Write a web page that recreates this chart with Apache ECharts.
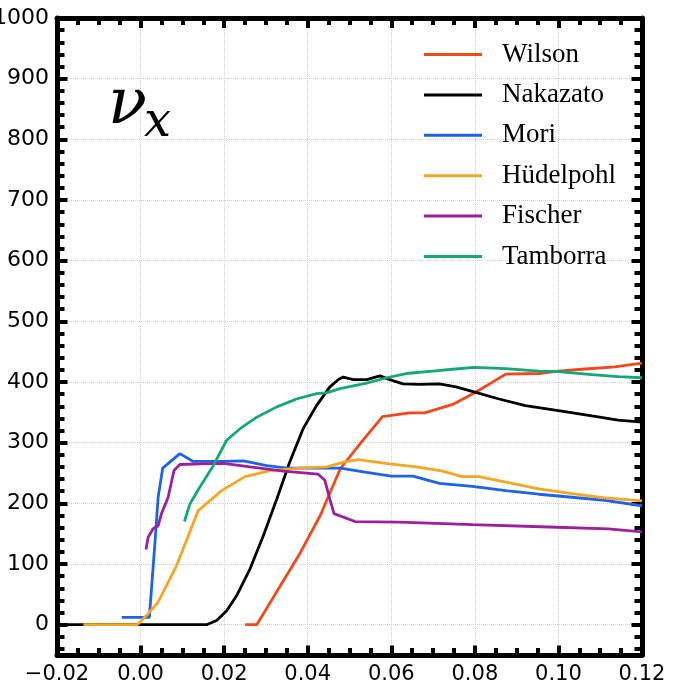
<!DOCTYPE html>
<html>
<head>
<meta charset="utf-8">
<script src="https://cdn.jsdelivr.net/npm/echarts@6/dist/echarts.min.js"></script>
<style>
html,body{margin:0;padding:0;background:#fff;}
#chart{width:680px;height:684px;}
</style>
</head>
<body>
<div id="chart"></div>
<script>
// ---- data (time [s], value) ----
const seriesNames = ['Wilson', 'Nakazato', 'Mori', 'Hüdelpohl', 'Fischer', 'Tamborra'];
const wilson = [[0.025,0],[0.0278,0],[0.0381,117],[0.043,180],[0.0478,257],[0.0525,298],[0.0579,343],[0.0644,349],[0.068,349],[0.0747,363],[0.0802,383],[0.0874,413],[0.0953,414],[0.1,418],[0.1056,421],[0.1135,425],[0.12,431]];
const nakazato = [[-0.02,0],[0.0158,0],[0.0182,7],[0.0206,23],[0.023,48],[0.0262,92],[0.0294,147],[0.0326,207],[0.0357,268],[0.0389,323],[0.0421,361],[0.0453,392],[0.0475,405],[0.0485,408],[0.0509,404],[0.0541,404],[0.0573,410],[0.0596,404],[0.0628,397],[0.0668,396],[0.0715,397],[0.0755,392],[0.0802,383],[0.0858,372],[0.0921,361],[0.1,353],[0.108,344],[0.1143,337],[0.12,334]];
const mori = [[-0.0045,12],[0.0021,12],[0.0036,150],[0.0042,210],[0.0053,258],[0.0094,282],[0.0126,269],[0.0198,269],[0.0246,270],[0.0302,262],[0.035,258],[0.0421,258],[0.0478,258],[0.0541,251],[0.06,245],[0.0652,245],[0.0715,233],[0.0794,228],[0.0874,221],[0.0953,215],[0.1032,210],[0.1111,205],[0.12,196]];
const hudelpohl = [[-0.0137,0],[-0.0008,0],[0.0014,15],[0.0042,37],[0.0086,97],[0.0138,188],[0.0194,221],[0.025,244],[0.031,254],[0.0381,258],[0.0446,260],[0.0486,268],[0.0521,272],[0.0596,265],[0.066,260],[0.0723,253],[0.0769,244],[0.081,244],[0.0874,235],[0.0953,224],[0.1032,216],[0.1111,209],[0.12,204]];
const fischer = [[0.0013,124],[0.0018,144],[0.003,158],[0.0042,163],[0.005,183],[0.0066,210],[0.008,254],[0.0094,264],[0.0142,265],[0.0198,266],[0.0262,260],[0.0342,253],[0.0425,248],[0.0441,238],[0.0453,207],[0.0463,183],[0.0513,170],[0.062,169],[0.0794,165],[0.0977,161],[0.1119,158],[0.12,153]];
const tamborra = [[0.0105,170],[0.0118,199],[0.0142,227],[0.0174,262],[0.0206,304],[0.0238,323],[0.0278,342],[0.0326,359],[0.0373,372],[0.0421,381],[0.0445,382],[0.0477,389],[0.0541,398],[0.0589,407],[0.0636,414],[0.0699,418],[0.0747,421],[0.0798,424],[0.0874,422],[0.0953,418],[0.1,417],[0.108,412],[0.1143,409],[0.12,407]];
const seriesData = [wilson, nakazato, mori, hudelpohl, fischer, tamborra];
const seriesColors = ['#F2481B', '#000000', '#1C63E8', '#F5A623', '#9C1F9E', '#13A878'];

// ---- axes / ticks ----
const xMin = -0.02, xMax = 0.12;
const xMajorTicks = [-0.02, 0, 0.02, 0.04, 0.06, 0.08, 0.10, 0.12];
const xMinorTicks = [-0.015,-0.01,-0.005,0.005,0.01,0.015,0.025,0.03,0.035,0.045,0.05,0.055,0.065,0.07,0.075,0.085,0.09,0.095,0.105,0.11,0.115];
const yMin = -50, yMax = 1000;
const yMajorTicks = [0,100,200,300,400,500,600,700,800,900,1000];
const yMinorTicks = [-40,-20,20,40,60,80,120,140,160,180,220,240,260,280,320,340,360,380,420,440,460,480,520,540,560,580,620,640,660,680,720,740,760,780,820,840,860,880,920,940,960,980];

const FRAME = '#000';
const labelFont = "'DejaVu Sans', sans-serif";

function axisCfg(kind, pos, ticks, len, withLabels, withLine) {
  const isX = kind === 'x';
  return {
    show: true, type: 'value', position: pos,
    min: isX ? xMin : yMin, max: isX ? xMax : yMax,
    axisLine: {show: withLine, onZero: false, lineStyle: {color: FRAME, width: 5}},
    axisTick: {show: true, inside: true, length: len, customValues: ticks, lineStyle: {color: FRAME, width: 4}},
    axisLabel: {
      show: withLabels, customValues: isX ? xMajorTicks : yMajorTicks,
      color: '#000', fontSize: isX ? 21 : 22, fontFamily: labelFont, margin: isX ? 9 : 8,
      formatter: isX ? (v => v.toFixed(2).replace('-', '\u2212')) : (v => String(v))
    },
    splitLine: {show: withLabels, lineStyle: {color: '#cfcfcf', type: 'dotted', width: 1}}
  };
}

const chart = echarts.init(document.getElementById('chart'), null, {renderer: 'canvas'});
chart.setOption({
  animation: false,
  backgroundColor: '#fff',
  grid: {left: 57, right: 38, top: 18, bottom: 29, containLabel: false, outerBoundsMode: 'none'},
  xAxis: [
    axisCfg('x', 'bottom', xMajorTicks, 9.5, true, true),
    axisCfg('x', 'top', xMajorTicks, 10, false, true),
    axisCfg('x', 'bottom', xMinorTicks, 7, false, false),
    axisCfg('x', 'top', xMinorTicks, 7, false, false)
  ],
  yAxis: [
    axisCfg('y', 'left', yMajorTicks, 10.5, true, true),
    axisCfg('y', 'right', yMajorTicks, 10.5, false, true),
    axisCfg('y', 'left', yMinorTicks, 7.5, false, false),
    axisCfg('y', 'right', yMinorTicks, 7.5, false, false)
  ],
  legend: {
    orient: 'vertical', left: 424, top: 41, padding: 0,
    icon: 'rect', itemWidth: 58, itemHeight: 3, itemGap: 13.4,
    textStyle: {fontFamily: "'Liberation Serif', 'Times New Roman', serif", fontSize: 27, color: '#000', lineHeight: 27, padding: [0, 0, 0, 15]},
    data: seriesNames
  },
  graphic: [
    {type: 'text', left: 108, top: 74, z: 100,
      style: {text: '\u03BD', font: "italic 64px 'DejaVu Serif', serif", fill: '#000'}},
    {type: 'text', left: 144, top: 100, z: 100,
      style: {text: 'x', font: "italic 48px 'DejaVu Serif', serif", fill: '#000'}}
  ],
  series: seriesNames.map((name, i) => ({
    name: name, type: 'line', data: seriesData[i],
    xAxisIndex: 0, yAxisIndex: 0,
    showSymbol: false, symbol: 'none',
    lineStyle: {color: seriesColors[i], width: 2.8},
    itemStyle: {color: seriesColors[i]},
    z: 3
  }))
});
</script>
</body>
</html>
